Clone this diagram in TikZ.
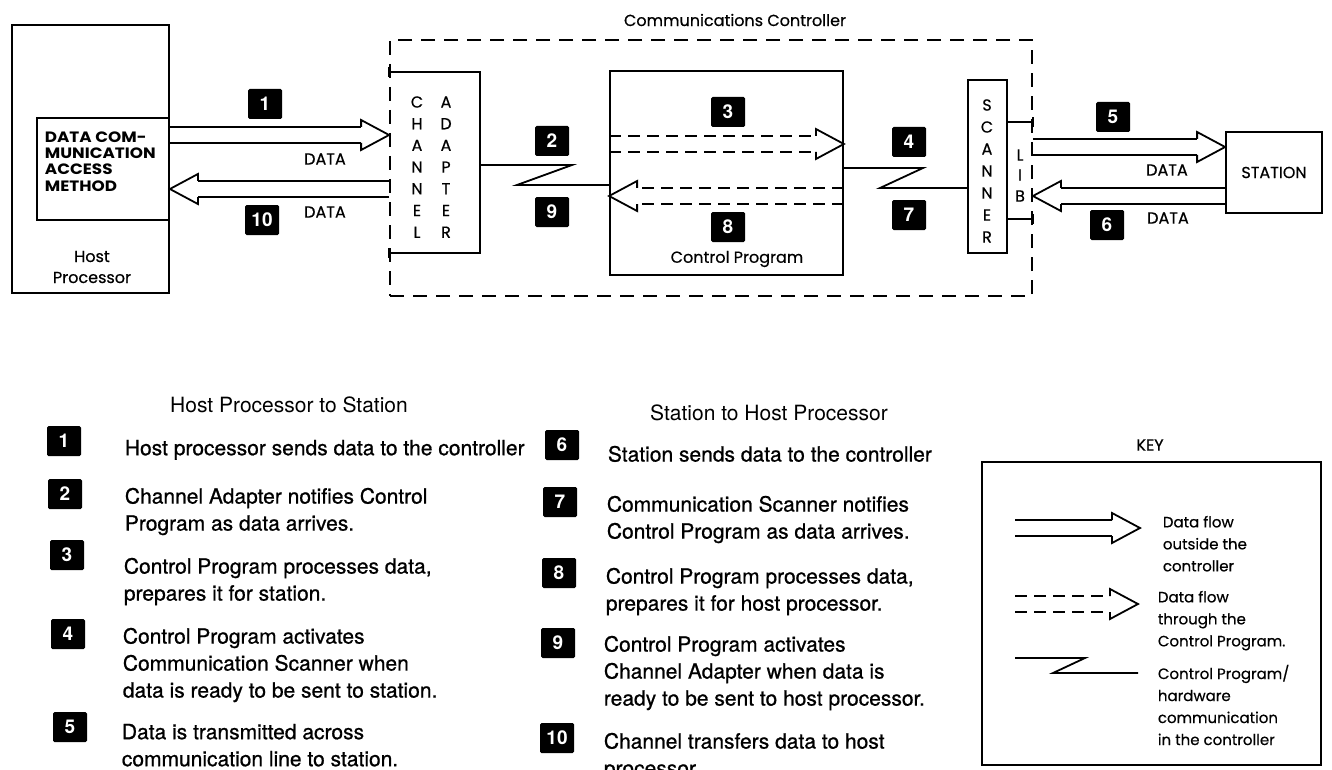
\documentclass[tikz,border=0pt]{standalone}
\usepackage{fontspec}
\setmainfont{TeX Gyre Heros}
\newfontfamily\itemfont[FakeBold=0.8]{TeX Gyre Heros}
\newfontfamily\geofont[FakeBold=0.5]{Poppins}
\newfontfamily\widefont[FakeStretch=1.12]{Poppins}
\usetikzlibrary{calc,positioning}

\begin{document}
\begin{tikzpicture}[
  x=1pt, y=-1pt,
  line width=1.8pt,
  box/.style={draw, line width=1.8pt, inner sep=0pt},
  dashbox/.style={draw, line width=1.8pt, dash pattern=on 14pt off 9pt, inner sep=0pt},
  lbl/.style={font=\geofont\fontsize{16}{21}\selectfont, inner sep=0pt},
  letter/.style={font=\geofont\fontsize{16}{18}\selectfont, inner sep=0pt},
  keytext/.style={font=\geofont\fontsize{15}{22}\selectfont, inner sep=0pt, align=left, anchor=north west},
  badge/.style={fill=black, text=white, font=\bfseries\fontsize{19}{19}\selectfont, minimum width=34pt, minimum height=30pt, inner sep=0pt, rounded corners=1.5pt},
  item/.style={font=\itemfont\fontsize{21}{27}\selectfont, inner sep=0pt, align=left, anchor=north west},
  head/.style={font=\fontsize{21}{25}\selectfont, inner sep=0pt},
  shaft/.style={draw=none, line width=1.8pt,
    postaction={draw, transform canvas={yshift=8pt}},
    postaction={draw, transform canvas={yshift=-8pt}}},
  dshaft/.style={shaft, dash pattern=on 12pt off 7pt},
  zig/.style={line width=1.8pt, line join=miter},
  flowhead/.pic={\draw[line width=1.8pt, line join=miter, miter limit=20] (-28,-8) -- (-28,-15) -- (0,0) -- (-28,15) -- (-28,8);}
]
\useasboundingbox (0,0) rectangle (1332,770);

% ----- HOST -----
\node[box, minimum width=157pt, minimum height=268pt] (host) at (90.5,159) {};
\node[box, minimum width=132pt, minimum height=102pt] (dcam) at (103,169) {};
\node[font=\widefont\bfseries\fontsize{15}{16.2}\selectfont, inner sep=0pt, align=left, anchor=north west] (dcamtxt) at (44,131) {DATA COM-\\MUNICATION\\ACCESS\\METHOD};
\node[lbl, align=center] (hostlbl) at (92,267) {Host\\Processor};

% ----- CONTROLLER -----
\node[dashbox, minimum width=642pt, minimum height=256pt] (ctrl) at (711,168) {};
\node[lbl] (ctrllbl) at (735,20) {Communications Controller};

% channel adapter (left side is the dashed line)
\node[inner sep=0pt, minimum width=89pt, minimum height=179pt] (chan) at (434.5,162.5) {};
\draw (chan.north west) -- (chan.north east) -- (chan.south east) -- (chan.south west);
\draw ($(chan.north west)+(0,-5)$) -- ($(chan.north west)+(0,5)$);
\draw ($(chan.south west)+(0,-5)$) -- ($(chan.south west)+(0,5)$);
\foreach \ch [count=\i] in {C,H,A,N,N,E,L}
  \node[letter] (chana\i) at (417,80.3+21.7*\i) {\ch};
\foreach \ch [count=\i] in {A,D,A,P,T,E,R}
  \node[letter] (chanb\i) at (446,80.3+21.7*\i) {\ch};

% control program
\node[box, minimum width=233pt, minimum height=204pt] (prog) at (726.5,173) {};
\node[lbl] (proglbl) at (737,259) {Control Program};

% scanner and LIB
\node[box, minimum width=39pt, minimum height=173pt] (scan) at (987.5,166.5) {};
\foreach \ch [count=\i] in {S,C,A,N,N,E,R}
  \node[letter] (scanl\i) at (987,83+22*\i) {\ch};
\node[inner sep=0pt, minimum width=25pt, minimum height=95pt] (lib) at (1019.5,170.5) {};
\draw (lib.north west) -- (lib.north east);
\draw (lib.south west) -- (lib.south east);
\draw ($(lib.north east)+(0,-5)$) -- ($(lib.north east)+(0,5)$);
\draw ($(lib.south east)+(0,-5)$) -- ($(lib.south east)+(0,5)$);
\node[letter] (libl) at (1020,155) {L};
\node[letter] (libi) at (1020,175) {I};
\node[letter] (libb) at (1020,196) {B};

% ----- STATION -----
\node[box, minimum width=96pt, minimum height=81pt, font=\geofont\fontsize{16}{18}\selectfont] (station) at (1274,172.5) {STATION};

% ----- DATA FLOWS -----
\path[shaft] (host.east |- 0,135) -- ($(chan.west |- 0,135)+(-28,0)$);
\pic at (chan.west |- 0,135) {flowhead};
\path[shaft] (chan.west |- 0,189) -- ($(host.east |- 0,189)+(28,0)$);
\pic[rotate=180] at (host.east |- 0,189) {flowhead};
\path[dshaft] (prog.west |- 0,144) -- ($(prog.east |- 0,144)+(-28,0)$);
\pic at (prog.east |- 0,144) {flowhead};
\path[dshaft] (prog.east |- 0,196) -- ($(prog.west |- 0,196)+(28,0)$);
\pic[rotate=180] at (prog.west |- 0,196) {flowhead};
\path[shaft] (lib.east |- 0,147) -- ($(station.west |- 0,147)+(-28,0)$);
\pic at (station.west |- 0,147) {flowhead};
\path[shaft] (station.west |- 0,196) -- ($(lib.east |- 0,196)+(28,0)$);
\pic[rotate=180] at (lib.east |- 0,196) {flowhead};

% ----- CONTROL SIGNALS -----
\draw[zig] (chan.east |- 0,165) -- (572,165) -- (517,185) -- (prog.west |- 0,185);
\draw[zig] (prog.east |- 0,168) -- (923,168) -- (880,188) -- (scan.west |- 0,188);

% ----- LABELS -----
\node[lbl] (data1) at (325,159) {DATA};
\node[lbl] (data10) at (325,212) {DATA};
\node[lbl] (data5) at (1167,170) {DATA};
\node[lbl] (data6) at (1168,218) {DATA};

\node[badge] (n1) at (265,104) {1};
\node[badge] (n10) at (262,220) {10};
\node[badge] (n2) at (552,141) {2};
\node[badge] (n9) at (552,212) {9};
\node[badge] (n3) at (728,112) {3};
\node[badge] (n8) at (728,227) {8};
\node[badge] (n4) at (909,142) {4};
\node[badge] (n7) at (909,215) {7};
\node[badge] (n5) at (1113,117) {5};
\node[badge] (n6) at (1107,225) {6};

% ----- HOST TO STATION -----
\node[head] (hts) at (289,405) {Host Processor to Station};
\node[badge] (l1) at (64,441) {1};
\node[badge] (l2) at (65,494) {2};
\node[badge] (l3) at (67,555) {3};
\node[badge] (l4) at (68,634) {4};
\node[badge] (l5) at (70,727) {5};
\node[item] (t1) at (124,439) {Host processor sends data to the controller};
\node[item] (t2) at (124,487) {Channel Adapter notifies Control\\Program as data arrives.};
\node[item] (t3) at (123,557) {Control Program processes data,\\prepares it for station.};
\node[item] (t4) at (122,627) {Control Program activates\\Communication Scanner when\\data is ready to be sent to station.};
\node[item] (t5) at (121,723) {Data is transmitted across\\communication line to station.};

% ----- STATION TO HOST -----
\node[head] (sth) at (769,413) {Station to Host Processor};
\node[badge] (l6) at (562,445) {6};
\node[badge] (l7) at (560,502) {7};
\node[badge] (l8) at (559,573) {8};
\node[badge] (l9) at (558,643) {9};
\node[badge] (l10) at (557,738) {10};
\node[item] (t6) at (607,445) {Station sends data to the controller};
\node[item] (t7) at (606,495) {Communication Scanner notifies\\Control Program as data arrives.};
\node[item] (t8) at (605,567) {Control Program processes data,\\prepares it for host processor.};
\node[item] (t9) at (603,635) {Control Program activates\\Channel Adapter when data is\\ready to be sent to host processor.};
\node[item] (t10) at (603,732) {Channel transfers data to host\\processor.};

% ----- KEY -----
\node[lbl] (keylbl) at (1150,445) {KEY};
\node[box, minimum width=339pt, minimum height=303pt] (key) at (1151.5,613.5) {};
\coordinate (k1a) at (1015,528);
\coordinate (k1b) at (1140,528);
\path[shaft] (k1a) -- ($(k1b)+(-28,0)$);
\pic at (k1b) {flowhead};
\node[keytext] (k1t) at (1162,515) {Data flow\\outside the\\controller};
\coordinate (k2a) at (1015,604);
\coordinate (k2b) at (1138,604);
\path[dshaft] (k2a) -- ($(k2b)+(-28,0)$);
\pic at (k2b) {flowhead};
\node[keytext] (k2t) at (1157,590) {Data flow\\through the\\Control Program.};
\coordinate (k3a) at (1015,658);
\coordinate (k3b) at (1138,673);
\draw[zig] (k3a) -- (1085,658) -- (1053,673) -- (k3b);
\node[keytext] (k3t) at (1157,664) {Control Program/\\hardware\\communication\\in the controller};

\end{tikzpicture}
\end{document}
